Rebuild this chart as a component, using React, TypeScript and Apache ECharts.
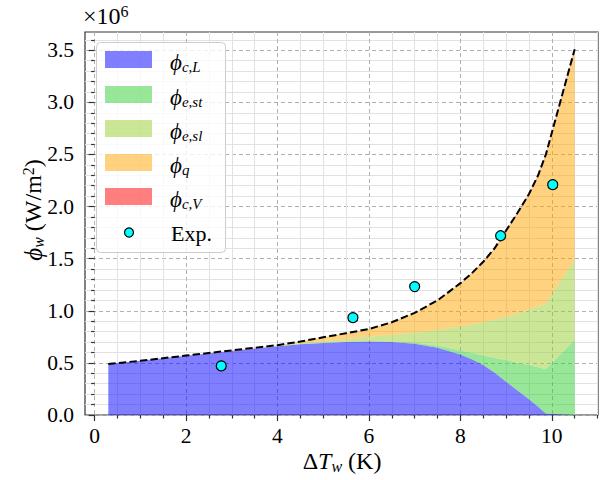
import React, { useEffect, useRef } from "react";
import * as echarts from "echarts";

// ---- data (values in units of 1e6 W/m^2) ----
const xs = [0.3, 1, 2, 3, 4, 4.5, 5, 5.5, 6, 6.5, 7, 7.5, 8, 8.25, 8.5, 8.75, 9, 9.25, 9.5, 9.7, 9.87, 10.5];
const phiCL = [0.49, 0.52, 0.568, 0.615, 0.66, 0.678, 0.692, 0.7, 0.705, 0.7, 0.683, 0.645, 0.58, 0.535, 0.48, 0.405, 0.318, 0.235, 0.15, 0.08, 0.015, 0];
const phiEst = [0, 0, 0, 0, 0, 0, 0, 0, 0, 0.005, 0.012, 0.02, 0.04, 0.06, 0.09, 0.143, 0.207, 0.267, 0.33, 0.378, 0.425, 0.72];
const phiEsl = [0, 0, 0, 0, 0.005, 0.012, 0.018, 0.03, 0.045, 0.065, 0.095, 0.15, 0.23, 0.273, 0.32, 0.365, 0.415, 0.47, 0.53, 0.582, 0.63, 0.77];
const phiQ = [0, 0, 0.002, 0.005, 0.005, 0.015, 0.035, 0.055, 0.075, 0.12, 0.19, 0.285, 0.411, 0.487, 0.574, 0.68, 0.822, 0.959, 1.1, 1.249, 1.418, 2.005];
const phiCV = [0, 0, 0, 0, 0, 0, 0, 0, 0, 0, 0, 0, 0.004, 0.005, 0.006, 0.007, 0.008, 0.009, 0.01, 0.011, 0.012, 0.015];
const expX = [2.77, 5.65, 7.0, 8.88, 10.02];
const expY = [0.471, 0.934, 1.232, 1.72, 2.21];

const xMajor = [0, 2, 4, 6, 8, 10];
const xMinor = [0.5, 1, 1.5, 2.5, 3, 3.5, 4.5, 5, 5.5, 6.5, 7, 7.5, 8.5, 9, 9.5, 10.5, 11];
const yMajor = [0, 0.5, 1, 1.5, 2, 2.5, 3, 3.5];
const yMinor = [0.1, 0.2, 0.3, 0.4, 0.6, 0.7, 0.8, 0.9, 1.1, 1.2, 1.3, 1.4, 1.6, 1.7, 1.8, 1.9, 2.1, 2.2, 2.3, 2.4, 2.6, 2.7, 2.8, 2.9, 3.1, 3.2, 3.3, 3.4, 3.6];

const SERIF = "Liberation Serif, DejaVu Serif, serif";

const layers = [
  { key: "cL", sub: "c,L", data: phiCL, color: "rgba(0,0,255,0.5)" },
  { key: "est", sub: "e,st", data: phiEst, color: "rgba(50,205,50,0.5)" },
  { key: "esl", sub: "e,sl", data: phiEsl, color: "rgba(154,205,50,0.5)" },
  { key: "q", sub: "q", data: phiQ, color: "rgba(255,165,0,0.5)" },
  { key: "cV", sub: "c,V", data: phiCV, color: "rgba(255,0,0,0.5)" },
];

function mkRich(size: number) {
  const sub = Math.round(size * 0.68);
  return {
    p: { fontFamily: SERIF, fontStyle: "italic", fontSize: size + 1, lineHeight: size + 2, verticalAlign: "middle", fill: "#000" },
    s: { fontFamily: SERIF, fontStyle: "italic", fontSize: sub, lineHeight: sub - 3, verticalAlign: "bottom", fill: "#000" },
    n: { fontFamily: SERIF, fontSize: size, lineHeight: size + 2, verticalAlign: "middle", fill: "#000" },
    i: { fontFamily: SERIF, fontStyle: "italic", fontSize: size, lineHeight: size + 2, verticalAlign: "middle", fill: "#000" },
    sup: { fontFamily: SERIF, fontSize: sub, lineHeight: sub - 2, verticalAlign: "top", fill: "#000" },
  };
}

export default function App() {
  const ref = useRef<HTMLDivElement>(null);
  useEffect(() => {
    if (!ref.current) return;
    const chart = echarts.init(ref.current, undefined, { renderer: "svg" });

    // cumulative bottoms / tops of each stacked layer
    const bottoms: number[][] = [];
    const tops: number[][] = [];
    let acc = xs.map(() => 0);
    layers.forEach((l) => {
      bottoms.push(acc.slice());
      acc = acc.map((v, i) => v + l.data[i]);
      tops.push(acc.slice());
    });
    const total = acc;

    const legendRich = mkRich(22);
    const titleRich = mkRich(24);

    const legendTop = [51, 86, 120, 154, 188];
    const g: any[] = [
      {
        type: "rect",
        shape: { x: 96.5, y: 42.5, width: 129, height: 210, r: 4 },
        style: { fill: "rgba(255,255,255,0.8)", stroke: "#cccccc", lineWidth: 1 },
        z: 10,
      },
    ];
    layers.forEach((l, i) => {
      g.push({
        type: "rect",
        shape: { x: 105, y: legendTop[i], width: 47, height: 17 },
        style: { fill: l.color },
        z: 11,
      });
      g.push({
        type: "text",
        x: 170,
        y: legendTop[i] + 11,
        style: { text: `{p|ϕ}{s|${l.sub}}`, rich: legendRich, verticalAlign: "middle", align: "left" },
        z: 11,
      });
    });
    g.push({
      type: "circle",
      shape: { cx: 129, cy: 232.5, r: 4.5 },
      style: { fill: "#00ffff", stroke: "#000", lineWidth: 1.2 },
      z: 11,
    });
    g.push({
      type: "text",
      x: 171,
      y: 233,
      style: { text: "Exp.", fontFamily: SERIF, fontSize: 22, fill: "#000", verticalAlign: "middle", align: "left" },
      z: 11,
    });
    // offset text
    g.push({
      type: "text",
      x: 83,
      y: 16,
      style: { text: "{n|×10}{sup|6}", rich: titleRich, verticalAlign: "middle", align: "left" },
      z: 11,
    });
    // x axis title
    g.push({
      type: "text",
      x: 342,
      y: 461,
      style: { text: "{n|Δ}{i|T}{s|w}{n| (K)}", rich: titleRich, verticalAlign: "middle", align: "center" },
      z: 11,
    });
    // y axis title
    g.push({
      type: "text",
      x: 33,
      y: 210,
      rotation: Math.PI / 2,
      style: { text: "{p|ϕ}{s|w}{n| (W/m}{sup|2}{n|)}", rich: titleRich, verticalAlign: "middle", align: "center" },
      z: 11,
    });

    const tickStyle = { color: "#333", width: 1.2 };
    const labelStyle = { fontSize: 21.5, fontFamily: "Liberation Serif", color: "#000" };

    chart.setOption({
      animation: false,
      grid: { left: 85, right: 3, top: 32, bottom: 65, show: true, borderColor: "#333", borderWidth: 1.2, backgroundColor: "transparent" },
      xAxis: [
        {
          type: "value",
          min: -0.21,
          max: 11.01,
          position: "bottom",
          axisLine: { show: false },
          axisTick: { customValues: xMajor, length: 6, lineStyle: tickStyle },
          axisLabel: { customValues: xMajor, margin: 10, ...labelStyle, formatter: (v: number) => String(v) },
          splitLine: { show: true, lineStyle: { color: "#b0b0b0", type: [4, 3], width: 1 } },
        },
        {
          type: "value",
          min: -0.21,
          max: 11.01,
          position: "bottom",
          axisLine: { show: false },
          axisTick: { customValues: xMinor, length: 3.5, lineStyle: tickStyle },
          axisLabel: { show: false },
          splitLine: { show: true, lineStyle: { color: "#e2e2e2", width: 1 } },
        },
      ],
      yAxis: [
        {
          type: "value",
          min: 0,
          max: 3.675,
          position: "left",
          axisLine: { show: false },
          axisTick: { customValues: yMajor, length: 6, lineStyle: tickStyle },
          axisLabel: { customValues: yMajor, margin: 11, ...labelStyle, formatter: (v: number) => v.toFixed(1) },
          splitLine: { show: true, lineStyle: { color: "#b0b0b0", type: [4, 3], width: 1 } },
        },
        {
          type: "value",
          min: 0,
          max: 3.675,
          position: "left",
          axisLine: { show: false },
          axisTick: { customValues: yMinor, length: 3.5, lineStyle: tickStyle },
          axisLabel: { show: false },
          splitLine: { show: true, lineStyle: { color: "#e2e2e2", width: 1 } },
        },
      ],
      series: [
        {
          type: "custom",
          name: "stack",
          xAxisIndex: 0,
          yAxisIndex: 0,
          data: layers.map((_, i) => [xs[0], 0, i]),
          encode: { x: 0, y: 1 },
          renderItem: (_params: any, api: any) => {
            const li = api.value(2);
            const pts: number[][] = [];
            for (let k = 0; k < xs.length; k++) pts.push(api.coord([xs[k], tops[li][k]]));
            for (let k = xs.length - 1; k >= 0; k--) pts.push(api.coord([xs[k], bottoms[li][k]]));
            return {
              type: "polygon",
              shape: { points: pts },
              style: { fill: layers[li].color, stroke: null },
              silent: true,
            };
          },
          silent: true,
          clip: false,
          z: 2,
        },
        {
          type: "line",
          name: "total",
          xAxisIndex: 0,
          yAxisIndex: 0,
          data: xs.map((x, i) => [x, total[i]]),
          symbol: "none",
          showSymbol: false,
          lineStyle: { color: "#000", width: 2, type: [7.4, 3.2] },
          silent: true,
          z: 4,
        },
        {
          type: "scatter",
          name: "Exp.",
          xAxisIndex: 0,
          yAxisIndex: 0,
          data: expX.map((x, i) => [x, expY[i]]),
          symbolSize: 10,
          itemStyle: { color: "#00ffff", borderColor: "#000", borderWidth: 1.2, opacity: 1 },
          silent: true,
          z: 5,
        },
      ],
      graphic: g,
    });
    return () => chart.dispose();
  }, []);
  return <div ref={ref} style={{ position: "absolute", left: 0, top: 0, width: 601, height: 480 }} />;
}
